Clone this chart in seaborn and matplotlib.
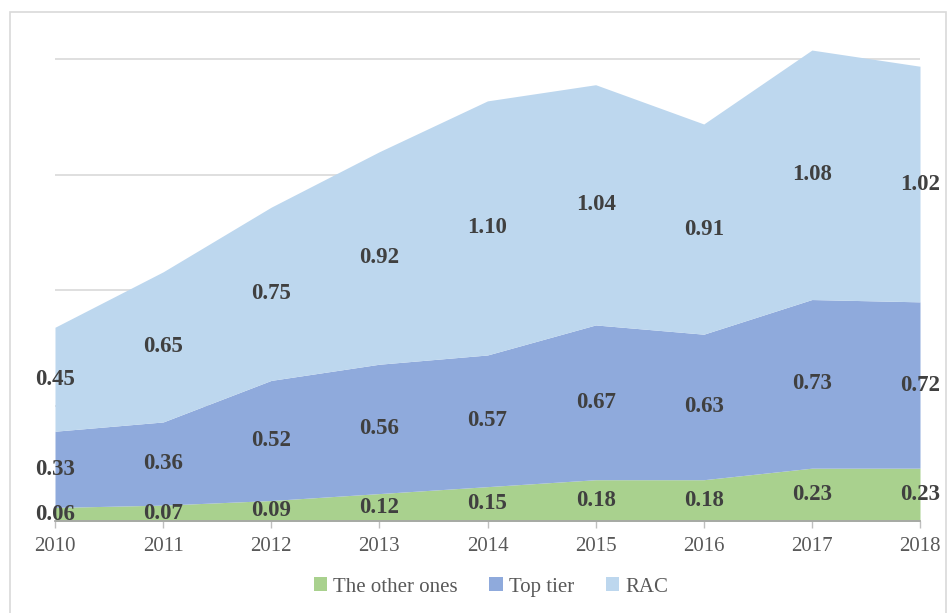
import matplotlib
matplotlib.use("Agg")
import matplotlib.pyplot as plt
from matplotlib.patches import Patch, Rectangle
import seaborn as sns

# values
years = [2010, 2011, 2012, 2013, 2014, 2015, 2016, 2017, 2018]
other_ones = [0.06, 0.07, 0.09, 0.12, 0.15, 0.18, 0.18, 0.23, 0.23]
top_tier = [0.33, 0.36, 0.52, 0.56, 0.57, 0.67, 0.63, 0.73, 0.72]
rac = [0.45, 0.65, 0.75, 0.92, 1.10, 1.04, 0.91, 1.08, 1.02]
series_names = ["The other ones", "Top tier", "RAC"]
colors = ["#A9D18E", "#8FAADC", "#BDD7EE"]

sns.set_theme(style="white")
plt.rcParams["font.family"] = ["Liberation Serif", "DejaVu Serif"]

fig = plt.figure(figsize=(9.48, 6.13), dpi=100)
ax = fig.add_axes([55 / 948, 1 - 521.3 / 613, 865 / 948, (2.1 * 231) / 613])

series = [other_ones, top_tier, rac]
ax.stackplot(years, *series, colors=colors, linewidth=0, zorder=2)

# data labels at the middle of each band
base = [0.0] * len(years)
for vals in series:
    for i, (x, v) in enumerate(zip(years, vals)):
        ax.text(x, base[i] + v / 2, f"{v:.2f}", ha="center", va="center",
                fontsize=16.5, fontweight="bold", color="#404040", zorder=5)
    base = [b + v for b, v in zip(base, vals)]

ax.set_xlim(years[0], years[-1])
ax.set_ylim(0, 2.1)
ax.set_yticks([0.5, 1.0, 1.5, 2.0])
ax.set_yticklabels([])
ax.tick_params(axis="y", length=0)
ax.yaxis.grid(True, color="#D9D9D9", linewidth=1.2, zorder=0)
ax.set_axisbelow(True)

ax.set_xticks(years)
ax.set_xticklabels([str(y) for y in years], fontsize=15, color="#595959")
ax.tick_params(axis="x", length=5, width=1, color="#BFBFBF", pad=6, bottom=True)

for side in ["top", "right", "left"]:
    ax.spines[side].set_visible(False)
ax.spines["bottom"].set_color("#A6A6A6")
ax.spines["bottom"].set_linewidth(1.3)
ax.spines["bottom"].set_zorder(4)

handles = [Patch(facecolor=c, edgecolor="none") for c in colors]
fig.legend(handles, series_names, loc="center", bbox_to_anchor=(491 / 948, 1 - 587 / 613),
           ncol=3, frameon=False, fontsize=15, handlelength=0.65, handleheight=0.65,
           handletextpad=0.3, columnspacing=1.5, labelcolor="#595959")

# outer chart border
fig.patches.append(Rectangle((10 / 948, -0.01), 936 / 948, 1 - 12 / 613 + 0.01,
                             transform=fig.transFigure, fill=False,
                             edgecolor="#D9D9D9", linewidth=1.2))

fig.savefig("out.png", dpi=100)
